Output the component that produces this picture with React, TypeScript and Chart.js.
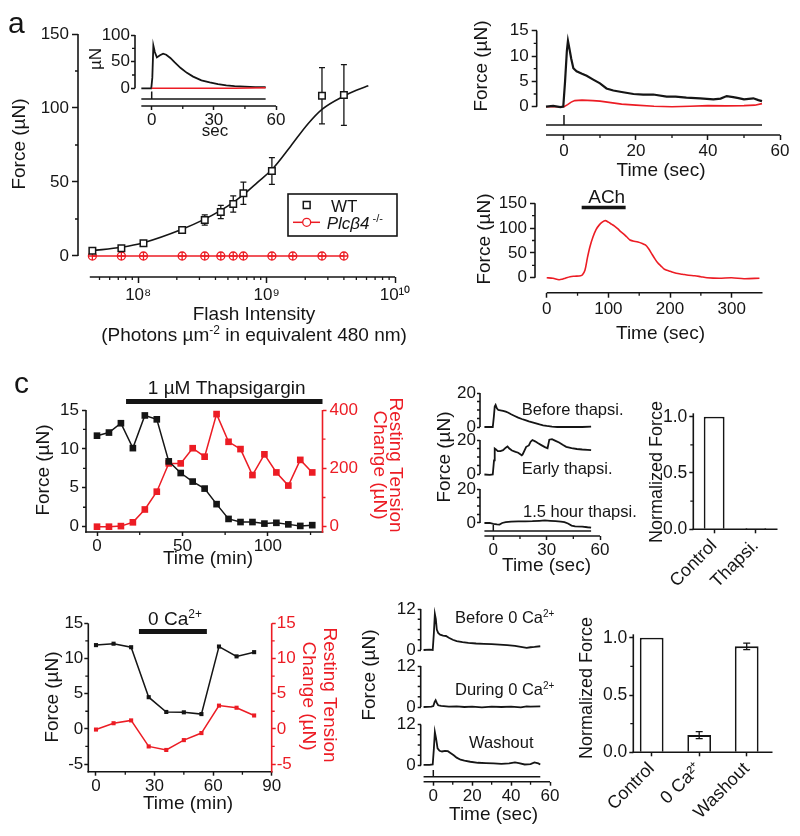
import React, { useEffect, useRef } from 'react';
import { Chart, registerables } from 'chart.js';

Chart.register(...registerables);

const FONT = '"Liberation Sans", Arial, Helvetica, sans-serif';
const INK = '#151515';
const RED = '#ec1c24';
Chart.defaults.font.family = FONT;
Chart.defaults.color = INK;

// ================= DATA =================
// (a) intensity-response, WT vs Plcb4-/-
const aFlashWT = [4.4e7, 7.4e7, 1.1e8, 2.2e8, 3.3e8, 4.4e8, 5.5e8, 6.6e8, 1.1e9, 2.7e9, 4.0e9];
const aForceWT = [3.6, 5.2, 8.6, 17.6, 24.3, 29.7, 35.1, 42.4, 57.4, 108.3, 108.8];
const aErrWT = [1.0, 1.0, 1.5, 2.0, 3.5, 4.5, 5.5, 7.5, 9.0, 19.0, 20.5];
const aFlashKO = [4.4e7, 7.4e7, 1.1e8, 2.2e8, 3.3e8, 4.4e8, 5.5e8, 6.6e8, 1.1e9, 1.6e9, 2.7e9, 4.0e9];
const aForceKO = [0, 0, 0, 0, 0, 0, 0, 0, 0, 0, 0, 0];
const aFitFlash = [4.4e7, 7.4e7, 1.1e8, 2.2e8, 3.3e8, 4.4e8, 5.5e8, 6.6e8, 8.5e8, 1.1e9, 1.54e9, 2.08e9, 2.7e9, 4.0e9, 5.0e9, 6.2e9];
const aFitForce = [3.6, 5.9, 9.0, 18.1, 24.9, 30.8, 36.2, 41.4, 49.8, 58.4, 74.2, 88.9, 99.1, 108.1, 112, 115];
const aXTicks = [1e8, 1e9, 1e10];
const aXTickLabels = ['10⁸', '10⁹', '10¹⁰'];
const aXMinor = [5e7, 6e7, 7e7, 8e7, 9e7, 2e8, 3e8, 4e8, 5e8, 6e8, 7e8, 8e8, 9e8, 2e9, 3e9, 4e9, 5e9, 6e9, 7e9, 8e9, 9e9];
const aYTicks = [0, 50, 100, 150];
// (a) inset
const aInsetTime = [-5, -0.2, 0.3, 0.8, 1.5, 2.5, 4, 5.5, 7, 9, 11, 14, 17, 20, 24, 28, 32, 36, 40, 45, 50, 55];
const aInsetWT = [0, 0, 20, 80, 68, 58, 62, 65, 63, 57, 49, 38, 29, 22, 15, 11, 8, 5.5, 4, 3, 2.3, 2];
const aInsetTimeKO = [0, 20, 40, 55];
const aInsetKO = [0, 0, 0.3, 1];

// (b) single flash traces
const bTimeWT = [-5, -3, -1, -0.2, 0.3, 0.8, 1.1, 1.5, 2, 2.6, 3.5, 5, 6.3, 8, 10, 11.8, 13.7, 16, 19.3, 22, 24.8, 28.5, 31, 34, 37.8, 41.5, 43.5, 45.2, 47, 48.5, 50, 52.6, 54, 55];
const bForceWT = [0, 0.15, -0.1, 0, 5, 11, 13, 11.5, 9.5, 7.6, 7, 6.5, 6.1, 5.4, 4.6, 3.6, 3.2, 2.9, 2.5, 2.4, 2.4, 2.0, 2.0, 1.8, 1.65, 1.45, 1.6, 2.1, 1.9, 1.7, 1.45, 1.65, 1.3, 1.1];
const bTimeKO = [-5, 0, 1, 2, 3, 5, 8, 10, 13, 16, 20, 25, 30, 35, 40, 45, 50, 53, 55];
const bForceKO = [0, 0, 0.4, 0.9, 1.2, 1.3, 1.2, 1.1, 0.8, 0.5, 0.3, 0.1, 0, 0.1, 0.2, 0.15, 0.2, 0.3, 0.6];
// (b) ACh response
const bAchTime = [0, 10, 20, 25, 30, 38, 45, 55, 58, 62, 66, 70, 75, 80, 85, 90, 95, 100, 105, 110, 115, 120, 125, 130, 135, 140, 148, 155, 160, 165, 170, 175, 180, 185, 190, 195, 200, 210, 220, 230, 240, 250, 260, 280, 300, 320, 345];
const bAchForce = [0, -1, -4, -3, -1, 2, 3, 4, 6, 15, 40, 62, 82, 97, 106, 112, 115, 112, 108, 104, 99, 93, 88, 82, 76, 74, 72, 69, 66, 59, 49, 39, 30, 24, 18, 15, 13, 9, 7, 5, 4, 2, 0, -1, 0, -2, -1];
const bAchOn = [56.7, 128];

// (c) thapsigargin time course
const cTime = [0, 7, 14, 21, 28, 35, 42, 49, 56, 63, 70, 77, 84, 91, 98, 105, 112, 119, 126];
const cForce = [11.7, 12.1, 13.3, 10.1, 14.3, 13.8, 8.4, 6.9, 5.8, 4.9, 2.9, 1.0, 0.6, 0.6, 0.4, 0.5, 0.3, 0.1, 0.2];
const cTension = [0, 0, 2, 15, 59, 120, 217, 217, 269, 240, 386, 291, 266, 177, 248, 186, 141, 229, 186];
const cDrugOn = [17, 132];
// (c) example traces
const cBeforeTime = [-5, -2, -0.3, 0.3, 0.8, 1.3, 2, 2.8, 4, 5.5, 7, 8.5, 10, 12, 14, 16, 18, 20, 22, 24, 26, 28, 30, 33, 36, 40, 45, 50, 55];
const cBeforeForce = [0, 0, 0, 6, 12, 13, 11, 10, 9.8, 9.5, 9, 8.4, 7.5, 6.5, 5.5, 4.7, 4, 3.3, 2.7, 2.1, 1.5, 1, 0.6, 0.2, 0, 0, 0.1, 0, 0.2];
const cEarlyTime = [-5, -2, -0.3, 0.4, 0.8, 1.5, 2.5, 4, 5.5, 7, 8, 9, 10.5, 12.5, 14, 16, 16.5, 18.5, 20, 21, 22, 23.5, 25, 27, 29, 30.5, 31.5, 33, 35, 37, 39, 41, 44, 47, 50, 53, 55];
const cEarlyForce = [-0.3, -0.5, -0.3, 8, 15, 14.5, 13.5, 13.5, 14, 15.5, 16.2, 15, 13.8, 13, 12.5, 11, 11.5, 16, 16.8, 19, 20, 19.2, 18.2, 17, 15.8, 15.2, 20.2, 20.5, 19.5, 18.5, 17.2, 16, 15.2, 14.7, 14.4, 14.2, 14];
const cLateTime = [-5, -2, 0, 2, 3.5, 5, 7, 10, 14, 18, 22, 26, 29, 32, 35, 38, 40, 42, 44, 46, 50, 53, 55];
const cLateForce = [0, 0, -0.5, -0.8, -0.9, 0, 0.5, 0.8, 1, 1, 1.1, 1.3, 1.5, 1.3, 1.1, 0.8, 0.5, -0.3, -1.5, -2, -2.1, -2.5, -2.7];
// (c) summary bars
const cBarCats = ['Control', 'Thapsi.'];
const cBarVals = [1.0, 0.012];

// (d) 0 Ca time course
const dTime = [0, 9, 18, 27, 36, 45, 54, 63, 72, 81];
const dForce = [11.9, 12.1, 11.6, 4.5, 2.4, 2.35, 2.1, 11.7, 10.3, 10.9];
const dTension = [-0.1, 0.8, 1.2, -2.5, -3.0, -1.6, -0.6, 3.3, 3.0, 1.9];
const dCaFreeOn = [22, 56.8];
// (d) example traces
const dBeforeTime = [-5, -2, -0.3, 0.3, 0.8, 1.3, 1.8, 2.5, 3.5, 5, 6.5, 8, 10, 12, 15, 18, 22, 26, 30, 34, 38, 42, 45, 48, 50, 52, 55];
const dBeforeForce = [0, 0.1, 0, 5, 10.5, 9, 6, 5, 4.5, 4.2, 4.1, 3.6, 3, 2.6, 2.3, 2.1, 1.9, 1.8, 1.7, 1.6, 1.4, 1.2, 0.9, 0.6, 0.8, 0.9, 1.1];
const dDuringTime = [-5, -1, 0, 0.7, 1.2, 1.8, 2.5, 4, 8, 12, 16, 20, 25, 30, 35, 40, 45, 48, 50, 55];
const dDuringForce = [0, 0.1, 0.3, 1.5, 2, 1.2, 0.5, 0.3, 0.1, 0.2, 0, 0.1, -0.1, 0.1, 0, 0.1, -0.1, 0.2, 0.1, 0.2];
const dWashTime = [-5, -2, -0.3, 0.3, 0.8, 1.4, 2.2, 3.2, 4.5, 6, 7.5, 9, 10.5, 12, 14, 16, 19, 23, 27, 31, 35, 39, 42, 44, 47, 50, 52, 54, 55];
const dWashForce = [0.2, 0.2, 0.3, 5, 9.8, 8, 5, 4.3, 4.1, 4.3, 4.2, 3.6, 3, 2.3, 1.7, 1.4, 1.1, 0.8, 0.7, 0.6, 0.5, 0.6, 0.9, 0.7, 0.3, 0.4, 0.9, 0.6, 0.3];
// (d) summary bars
const dBarCats = ['Control', '0 Ca²⁺', 'Washout'];
const dBarPos = [0, 1, 2];
const dBarVals = [1.0, 0.15, 0.925];
const dBarErr = [0, 0.03, 0.028];

// stimulus window of the flash traces (sec)
const stimSpan = [-5, 55];

// ================= HELPERS =================
type Rect = { x: number; y: number; w: number; h: number };
type Area = { l: number; t: number; r: number; b: number };

const pts = (xs: number[], ys: number[]) => xs.map((x, i) => ({ x, y: ys[i] }));

const line = (xs: number[], ys: number[], color: string, lw: number, extra: any = {}) => ({
  data: pts(xs, ys), showLine: true, borderColor: color, borderWidth: lw, pointRadius: 0, clip: false, tension: 0, ...extra,
});

function drawText(ctx: any, s: any, ox: number, oy: number) {
  const fs = s.fs ?? 19;
  const parts = s.parts ?? [{ t: s.t }];
  const fontOf = (p: any) => `${p.it ? 'italic ' : ''}${s.bold ? 'bold ' : ''}${p.sup ? Math.round(fs * 0.62) : fs}px ${FONT}`;
  const widths = parts.map((p: any) => { ctx.font = fontOf(p); return ctx.measureText(p.t).width; });
  const total = widths.reduce((a: number, b: number) => a + b, 0);
  ctx.save();
  ctx.translate(s.x - ox, s.y - oy);
  if (s.rot) ctx.rotate((s.rot * Math.PI) / 180);
  ctx.fillStyle = s.color || INK;
  ctx.textAlign = 'left';
  ctx.textBaseline = s.rot ? 'middle' : 'alphabetic';
  let x = s.align === 'left' ? 0 : s.align === 'right' ? -total : -total / 2;
  parts.forEach((p: any, i: number) => {
    ctx.font = fontOf(p);
    ctx.fillText(p.t, x, p.sup ? -fs * 0.36 : 0);
    x += widths[i];
  });
  ctx.restore();
}

function drawErrs(chart: any, o: any, before: boolean) {
  if (!o.errs) return;
  const ctx = chart.ctx;
  o.errs.forEach((e: any) => {
    if (!!e.before !== before) return;
    const meta = chart.getDatasetMeta(e.ds);
    const ds = chart.data.datasets[e.ds];
    const ys = chart.scales[meta.yAxisID];
    ctx.save();
    ctx.strokeStyle = e.color || INK;
    ctx.lineWidth = e.lw || 1.3;
    ctx.beginPath();
    meta.data.forEach((el: any, i: number) => {
      const err = e.err[i];
      if (!err) return;
      const raw = ds.data[i];
      const v = typeof raw === 'number' ? raw : raw.y;
      const x = el.x;
      const y0 = ys.getPixelForValue(v - err);
      const y1 = ys.getPixelForValue(v + err);
      const c = e.cap ?? 3;
      ctx.moveTo(x, y0); ctx.lineTo(x, y1);
      ctx.moveTo(x - c, y0); ctx.lineTo(x + c, y0);
      ctx.moveTo(x - c, y1); ctx.lineTo(x + c, y1);
    });
    ctx.stroke();
    ctx.restore();
  });
}

function decoPlugin(o: any) {
  return {
    id: 'deco',
    beforeDatasetsDraw(chart: any) { drawErrs(chart, o, true); },
    afterDatasetsDraw(chart: any) { drawErrs(chart, o, false); },
    afterDraw(chart: any) {
      const ctx = chart.ctx;
      const ox = o.ox, oy = o.oy;
      const ca = chart.chartArea;
      ctx.save();
      (o.borders || []).forEach((b: any) => {
        const s = chart.scales[b.id];
        ctx.strokeStyle = b.color || INK;
        ctx.lineWidth = 1.6;
        ctx.beginPath();
        if (s.isHorizontal()) {
          const y = s.top;
          const p0 = b.full ? ca.left - 0.8 : s.getPixelForValue(b.from);
          const p1 = b.full ? ca.right + 0.8 : s.getPixelForValue(b.to);
          ctx.moveTo(p0, y); ctx.lineTo(p1, y);
        } else {
          const x = s.position === 'right' ? s.left : s.right;
          const p0 = b.full ? ca.bottom + 0.8 : s.getPixelForValue(b.from);
          const p1 = b.full ? ca.top : s.getPixelForValue(b.to);
          ctx.moveTo(x, p0); ctx.lineTo(x, p1);
        }
        ctx.stroke();
      });
      (o.minor || []).forEach((m: any) => {
        const s = chart.scales[m.id];
        const len = m.len ?? 3;
        ctx.strokeStyle = m.color || INK;
        ctx.lineWidth = 1.3;
        ctx.beginPath();
        m.v.forEach((v: number) => {
          const p = s.getPixelForValue(v);
          if (s.isHorizontal()) { ctx.moveTo(p, s.top); ctx.lineTo(p, s.top + len); }
          else if (s.position === 'right') { ctx.moveTo(s.left, p); ctx.lineTo(s.left + len, p); }
          else { ctx.moveTo(s.right - len, p); ctx.lineTo(s.right, p); }
        });
        ctx.stroke();
      });
      (o.segs || []).forEach((g: any) => {
        const X = (v: number) => (g.xs ? chart.scales[g.xs].getPixelForValue(v) : v - ox);
        const Y = (v: number) => (g.ys ? chart.scales[g.ys].getPixelForValue(v) : v - oy);
        ctx.strokeStyle = g.color || INK;
        ctx.lineWidth = g.lw || 1.5;
        ctx.beginPath();
        ctx.moveTo(X(g.x0), Y(g.y0));
        ctx.lineTo(X(g.x1), Y(g.y1));
        ctx.stroke();
      });
      (o.boxes || []).forEach((b: any) => {
        ctx.strokeStyle = INK;
        ctx.lineWidth = 1.6;
        ctx.strokeRect(b.x0 - ox, b.y0 - oy, b.x1 - b.x0, b.y1 - b.y0);
      });
      (o.marks || []).forEach((m: any) => {
        const x = m.x - ox, y = m.y - oy;
        ctx.strokeStyle = m.color || INK;
        ctx.lineWidth = m.lw || 1.5;
        ctx.fillStyle = m.fill || 'rgba(0,0,0,0)';
        ctx.beginPath();
        if (m.shape === 'rect') { ctx.rect(x - m.r, y - m.r, 2 * m.r, 2 * m.r); ctx.fill(); ctx.stroke(); }
        else if (m.shape === 'circle') { ctx.arc(x, y, m.r, 0, 2 * Math.PI); ctx.fill(); ctx.stroke(); }
        else { ctx.moveTo(x - m.r, y); ctx.lineTo(x + m.r, y); ctx.moveTo(x, y - m.r); ctx.lineTo(x, y + m.r); ctx.stroke(); }
      });
      (o.texts || []).forEach((t: any) => drawText(ctx, t, ox, oy));
      ctx.restore();
    },
  };
}

function scaleCfg(a: any, size: number) {
  const color = a.color || INK;
  const cfg: any = {
    type: a.type || 'linear',
    position: a.pos,
    display: !a.hidden,
    offset: !!a.offset,
    afterFit: (s: any) => {
      if (s.isHorizontal()) s.height = size; else s.width = size;
      s.paddingLeft = 0; s.paddingRight = 0; s.paddingTop = 0; s.paddingBottom = 0;
    },
    grid: { display: true, drawOnChartArea: false, drawTicks: true, tickLength: a.tl ?? 5, tickWidth: 1.5, tickColor: color, offset: false },
    border: { display: false },
    ticks: {
      autoSkip: false, maxRotation: a.rot ?? 0, minRotation: a.rot ?? 0, padding: a.pad ?? 2, color,
      font: { family: FONT, size: a.fs ?? 17 },
    },
    title: { display: false },
  };
  if (a.min !== undefined) cfg.min = a.min;
  if (a.max !== undefined) cfg.max = a.max;
  if (a.ticks) {
    const tv = a.ticks;
    cfg.afterBuildTicks = (s: any) => { s.ticks = tv.map((v: number) => ({ value: v })); };
  }
  if (a.fmt) { const f = a.fmt; cfg.ticks.callback = (v: any) => f(v); }
  return cfg;
}

function mk(C: Rect, P: Area, axes: Record<string, any>, datasets: any[], deco: any, type = 'scatter', labels?: string[]) {
  const leftW = P.l - C.x, topH = P.t - C.y, rightW = C.x + C.w - P.r, botH = C.y + C.h - P.b;
  const list = Object.values(axes) as any[];
  const hasR = list.some((a) => a.pos === 'right' && !a.hidden);
  const hasB = list.some((a) => a.pos === 'bottom' && !a.hidden);
  const scales: any = {};
  Object.keys(axes).forEach((id) => {
    const a = axes[id];
    const size = a.hidden ? 0 : a.pos === 'left' ? leftW : a.pos === 'right' ? rightW : botH;
    scales[id] = scaleCfg(a, size);
  });
  const data: any = { datasets };
  if (labels) data.labels = labels;
  return {
    type,
    data,
    options: {
      responsive: false, animation: false, events: [], devicePixelRatio: 1,
      layout: { autoPadding: false, padding: { left: 0, top: topH, right: hasR ? 0 : rightW, bottom: hasB ? 0 : botH } },
      plugins: { legend: { display: false }, tooltip: { enabled: false } },
      scales,
    },
    plugins: [decoPlugin({ ox: C.x, oy: C.y, ...deco })],
  };
}

const fmt1 = (v: number) => v.toFixed(1);

// ================= CHART SPECS =================
type Spec = { C: Rect; make: () => any };

const cA: Rect = { x: 0, y: 0, w: 425, h: 350 };
const cAi: Rect = { x: 80, y: 24, w: 205, h: 122 };
const cB1: Rect = { x: 462, y: 10, w: 333, h: 175 };
const cB2: Rect = { x: 462, y: 186, w: 333, h: 162 };
const cC1: Rect = { x: 0, y: 372, w: 405, h: 200 };
const cC2a: Rect = { x: 430, y: 380, w: 210, h: 52 };
const cC2b: Rect = { x: 430, y: 400, w: 210, h: 110 };
const cC2c: Rect = { x: 430, y: 482, w: 210, h: 95 };
const cC3: Rect = { x: 640, y: 395, w: 150, h: 190 };
const cD1: Rect = { x: 0, y: 602, w: 345, h: 222 };
const cD2a: Rect = { x: 395, y: 597, w: 170, h: 60 };
const cD2b: Rect = { x: 355, y: 605, w: 210, h: 130 };
const cD2c: Rect = { x: 395, y: 715, w: 170, h: 115 };
const cD3: Rect = { x: 565, y: 615, w: 220, h: 215 };

const stripX = (min: number, ticks: number[], hidden: boolean) => ({ pos: 'bottom', min, max: 60, ticks, tl: 4, pad: 0, hidden });

const SPECS: Spec[] = [
  // ---- (a) main ----
  {
    C: cA,
    make: () => mk(cA, { l: 78, t: 34, r: 395, b: 277 }, {
      x: { pos: 'bottom', type: 'logarithmic', min: 3.4e7, max: 1e10, ticks: aXTicks, fmt: (v: number) => aXTickLabels[aXTicks.indexOf(v)] ?? '', tl: 6, pad: 2 },
      y: { pos: 'left', min: -14.2, max: 150, ticks: aYTicks, tl: 6, pad: 3 },
    }, [
      { data: pts(aFlashWT, aForceWT), showLine: false, pointStyle: 'rect', pointRadius: 4.6, pointBorderWidth: 1.5, borderColor: INK, backgroundColor: '#fff', clip: false },
      line(aFitFlash, aFitForce, INK, 1.6, { cubicInterpolationMode: 'monotone' }),
      { data: pts(aFlashKO, aForceKO), showLine: false, pointStyle: 'cross', pointRadius: 4, pointBorderWidth: 1.3, borderColor: RED, clip: false },
      { data: pts(aFlashKO, aForceKO), showLine: true, borderColor: RED, borderWidth: 1.5, pointStyle: 'circle', pointRadius: 4, pointBorderWidth: 1.3, pointBackgroundColor: 'rgba(255,255,255,0)', clip: false },
    ], {
      borders: [{ id: 'x', from: 4.2e7, to: 1e10 }, { id: 'y', from: 0, to: 150 }],
      minor: [{ id: 'y', v: [25, 75, 125] }, { id: 'x', v: aXMinor }],
      errs: [{ ds: 0, err: aErrWT, cap: 3, before: true }],
      boxes: [{ x0: 288, y0: 194, x1: 397, y1: 236 }],
      segs: [{ x0: 293, x1: 320, y0: 222.3, y1: 222.3, color: RED, lw: 1.5 }],
      marks: [
        { shape: 'rect', x: 306.7, y: 205, r: 3.4, color: INK, fill: '#fff' },
        { shape: 'circle', x: 306.7, y: 222.3, r: 4, color: RED, fill: '#fff', lw: 1.3 },
      ],
      texts: [
        { x: 8, y: 33, t: 'a', fs: 30, align: 'left' },
        { x: 19.5, y: 144, t: 'Force (µN)', rot: -90 },
        { x: 254, y: 320, t: 'Flash Intensity' },
        { x: 254, y: 341, parts: [{ t: '(Photons µm' }, { t: '-2', sup: true }, { t: ' in equivalent 480 nm)' }] },
        { x: 331, y: 212, t: 'WT', fs: 17, align: 'left' },
        { x: 326.7, y: 228.5, parts: [{ t: 'Plcβ4', it: true }, { t: ' -/-', sup: true }], fs: 17, align: 'left' },
      ],
    }),
  },
  // ---- (a) inset ----
  {
    C: cAi,
    make: () => mk(cAi, { l: 135, t: 35, r: 276, b: 106 }, {
      x: { pos: 'bottom', min: -8.06, max: 60, ticks: [0, 30, 60], tl: 4, pad: 0 },
      y: { pos: 'left', min: -33.2, max: 100, ticks: [0, 50, 100], tl: 4, pad: 1 },
    }, [
      line(aInsetTimeKO, aInsetKO, RED, 1.5),
      line(aInsetTime, aInsetWT, INK, 1.8),
    ], {
      borders: [{ id: 'x', from: -5, to: 60 }, { id: 'y', from: 0, to: 100 }],
      minor: [{ id: 'x', v: [15, 45] }, { id: 'y', v: [25, 75] }],
      segs: [
        { xs: 'x', x0: stimSpan[0], x1: stimSpan[1], y0: 99, y1: 99, lw: 1.5 },
        { xs: 'x', x0: 0, x1: 0, y0: 91.5, y1: 99, lw: 1.5 },
      ],
      texts: [
        { x: 215, y: 136, t: 'sec', fs: 17 },
        { x: 96.7, y: 59, t: 'µN', fs: 17, rot: -90 },
      ],
    }),
  },
  // ---- (b) flash traces ----
  {
    C: cB1,
    make: () => mk(cB1, { l: 536.7, t: 30.7, r: 780, b: 135 }, {
      x: { pos: 'bottom', min: -7.58, max: 60, ticks: [0, 20, 40, 60], tl: 5, pad: 1 },
      y: { pos: 'left', min: -5.59, max: 15, ticks: [0, 5, 10, 15], tl: 5, pad: 3 },
    }, [
      line(bTimeWT, bForceWT, INK, 2.2),
      line(bTimeKO, bForceKO, RED, 1.6),
    ], {
      borders: [{ id: 'x', from: -5, to: 60 }, { id: 'y', from: 0, to: 15 }],
      minor: [{ id: 'x', v: [10, 30, 50] }, { id: 'y', v: [2.5, 7.5, 12.5] }],
      segs: [
        { xs: 'x', x0: stimSpan[0], x1: stimSpan[1], y0: 125, y1: 125, lw: 1.5 },
        { xs: 'x', x0: 0, x1: 0, y0: 115, y1: 125, lw: 1.5 },
      ],
      texts: [
        { x: 438, y: 35, t: 'b', fs: 30, align: 'left' },
        { x: 481.7, y: 66, t: 'Force (µN)', rot: -90 },
        { x: 661, y: 176, t: 'Time (sec)' },
      ],
    }),
  },
  // ---- (b) ACh ----
  {
    C: cB2,
    make: () => mk(cB2, { l: 535, t: 203.3, r: 762.7, b: 292.7 }, {
      x: { pos: 'bottom', min: -19, max: 350.3, ticks: [0, 100, 200, 300], tl: 5, pad: 1 },
      y: { pos: 'left', min: -30.2, max: 150, ticks: [0, 50, 100, 150], tl: 5, pad: 3 },
    }, [
      line(bAchTime, bAchForce, RED, 1.6, { tension: 0.3 }),
    ], {
      borders: [{ id: 'x', from: 0, to: 350 }, { id: 'y', from: 0, to: 150 }],
      minor: [{ id: 'x', v: [50, 150, 250] }, { id: 'y', v: [25, 75, 125] }],
      segs: [{ xs: 'x', x0: bAchOn[0], x1: bAchOn[1], y0: 207.5, y1: 207.5, lw: 3.5 }],
      texts: [
        { x: 606.7, y: 203, t: 'ACh' },
        { x: 485, y: 239, t: 'Force (µN)', rot: -90 },
        { x: 660.5, y: 339, t: 'Time (sec)' },
      ],
    }),
  },
  // ---- (c) thapsigargin time course ----
  {
    C: cC1,
    make: () => mk(cC1, { l: 86, t: 410, r: 322.5, b: 532 }, {
      x: { pos: 'bottom', min: -6.44, max: 132, ticks: [0, 50, 100], tl: 4, pad: 0 },
      y: { pos: 'left', min: -0.68, max: 15, ticks: [0, 5, 10, 15], tl: 4, pad: 3 },
      y2: { pos: 'right', min: -18.2, max: 400, ticks: [0, 200, 400], tl: 4, pad: 3, color: RED },
    }, [
      { data: pts(cTime, cForce), yAxisID: 'y', showLine: true, borderColor: INK, backgroundColor: INK, borderWidth: 1.5, pointStyle: 'rect', pointRadius: 4.7, pointBorderWidth: 0, clip: false },
      { data: pts(cTime, cTension), yAxisID: 'y2', showLine: true, borderColor: RED, backgroundColor: RED, borderWidth: 1.5, pointStyle: 'rect', pointRadius: 4.7, pointBorderWidth: 0, clip: false },
    ], {
      borders: [{ id: 'x', full: true }, { id: 'y', full: true }, { id: 'y2', full: true, color: RED }],
      minor: [{ id: 'x', v: [25, 75, 125] }, { id: 'y', v: [2.5, 7.5, 12.5] }, { id: 'y2', v: [100, 300], color: RED }],
      segs: [{ xs: 'x', x0: cDrugOn[0], x1: cDrugOn[1], y0: 401.5, y1: 401.5, lw: 5 }],
      texts: [
        { x: 14, y: 393, t: 'c', fs: 30, align: 'left' },
        { x: 226.7, y: 394, t: '1 µM Thapsigargin' },
        { x: 43.3, y: 470, t: 'Force (µN)', rot: -90 },
        { x: 208, y: 564, t: 'Time (min)' },
        { x: 395, y: 465, t: 'Resting Tension', rot: 90, color: RED },
        { x: 379, y: 465, t: 'Change (µN)', rot: 90, color: RED },
      ],
    }),
  },
  // ---- (c) traces: before ----
  {
    C: cC2a,
    make: () => mk(cC2a, { l: 480, t: 393, r: 600, b: 427 }, {
      x: stripX(-7.48, [0, 30, 60], true),
      y: { pos: 'left', min: 0, max: 20, ticks: [0, 20], tl: 3, pad: 1 },
    }, [line(cBeforeTime, cBeforeForce, INK, 1.8)], {
      borders: [{ id: 'y', from: 0, to: 20 }],
      minor: [{ id: 'y', v: [5, 10, 15] }],
      texts: [{ x: 521.7, y: 415, t: 'Before thapsi.', fs: 16.5, align: 'left' }],
    }),
  },
  // ---- (c) traces: early ----
  {
    C: cC2b,
    make: () => mk(cC2b, { l: 480, t: 440, r: 600, b: 474 }, {
      x: stripX(-7.48, [0, 30, 60], true),
      y: { pos: 'left', min: 0, max: 20, ticks: [0, 20], tl: 3, pad: 1 },
    }, [line(cEarlyTime, cEarlyForce, INK, 1.8)], {
      borders: [{ id: 'y', from: 0, to: 20 }],
      minor: [{ id: 'y', v: [5, 10, 15] }],
      texts: [
        { x: 521.7, y: 473.5, t: 'Early thapsi.', fs: 16.5, align: 'left' },
        { x: 445, y: 457, t: 'Force (µN)', rot: -90 },
      ],
    }),
  },
  // ---- (c) traces: 1.5 h ----
  {
    C: cC2c,
    make: () => mk(cC2c, { l: 480, t: 489, r: 600, b: 536 }, {
      x: stripX(-7.48, [0, 30, 60], false),
      y: { pos: 'left', min: -7.65, max: 20, ticks: [0, 20], tl: 3, pad: 1 },
    }, [line(cLateTime, cLateForce, INK, 1.8)], {
      borders: [{ id: 'y', from: 0, to: 20 }, { id: 'x', from: -5, to: 60 }],
      minor: [{ id: 'y', v: [5, 10, 15] }, { id: 'x', v: [15, 45] }],
      segs: [
        { xs: 'x', x0: stimSpan[0], x1: stimSpan[1], y0: 531, y1: 531, lw: 1.5 },
        { xs: 'x', x0: 0, x1: 0, y0: 525, y1: 531, lw: 1.5 },
      ],
      texts: [
        { x: 523, y: 516.7, t: '1.5 hour thapsi.', fs: 16.5, align: 'left' },
        { x: 546.5, y: 571, t: 'Time (sec)' },
      ],
    }),
  },
  // ---- (c) bars ----
  {
    C: cC3,
    make: () => mk(cC3, { l: 693.3, t: 413.3, r: 776.7, b: 529.3 }, {
      x: { pos: 'bottom', type: 'category', offset: true, tl: 4, pad: 2, rot: 45, fs: 18 },
      y: { pos: 'left', min: 0, max: 1.03, ticks: [0, 0.5, 1], fmt: fmt1, tl: 4, pad: 2, fs: 17.5 },
    }, [
      { data: cBarVals, backgroundColor: '#fff', borderColor: INK, borderWidth: 1.8, barPercentage: 0.5, categoryPercentage: 1 },
    ], {
      borders: [{ id: 'x', full: true }, { id: 'y', full: true }],
      minor: [{ id: 'y', v: [0.25, 0.75] }],
      texts: [{ x: 657, y: 472, t: 'Normalized Force', fs: 18, rot: -90 }],
    }, 'bar', cBarCats),
  },
  // ---- (d) 0 Ca time course ----
  {
    C: cD1,
    make: () => mk(cD1, { l: 88.3, t: 623.3, r: 271.7, b: 771.7 }, {
      x: { pos: 'bottom', min: -3.94, max: 90, ticks: [0, 30, 60, 90], tl: 4, pad: 0 },
      y: { pos: 'left', min: -6.09, max: 15, ticks: [-5, 0, 5, 10, 15], tl: 4, pad: 1 },
      y2: { pos: 'right', min: -6.09, max: 15, ticks: [-5, 0, 5, 10, 15], tl: 4, pad: 1, color: RED },
    }, [
      { data: pts(dTime, dForce), yAxisID: 'y', showLine: true, borderColor: INK, backgroundColor: INK, borderWidth: 1.5, pointStyle: 'rect', pointRadius: 2.9, pointBorderWidth: 0, clip: false },
      { data: pts(dTime, dTension), yAxisID: 'y2', showLine: true, borderColor: RED, backgroundColor: RED, borderWidth: 1.5, pointStyle: 'rect', pointRadius: 2.9, pointBorderWidth: 0, clip: false },
    ], {
      borders: [{ id: 'x', full: true }, { id: 'y', full: true }, { id: 'y2', full: true, color: RED }],
      minor: [{ id: 'x', v: [15, 45, 75] }, { id: 'y', v: [-2.5, 2.5, 7.5, 12.5] }, { id: 'y2', v: [-2.5, 2.5, 7.5, 12.5], color: RED }],
      segs: [{ xs: 'x', x0: dCaFreeOn[0], x1: dCaFreeOn[1], y0: 631.5, y1: 631.5, lw: 5 }],
      texts: [
        { x: 175, y: 625, parts: [{ t: '0 Ca' }, { t: '2+', sup: true }] },
        { x: 52.5, y: 697, t: 'Force (µN)', rot: -90 },
        { x: 188, y: 809, t: 'Time (min)' },
        { x: 329, y: 695, t: 'Resting Tension', rot: 90, color: RED },
        { x: 308, y: 696, t: 'Change (µN)', rot: 90, color: RED },
      ],
    }),
  },
  // ---- (d) traces: before ----
  {
    C: cD2a,
    make: () => mk(cD2a, { l: 420.7, t: 609, r: 550, b: 650 }, {
      x: stripX(-6.48, [0, 20, 40, 60], true),
      y: { pos: 'left', min: 0, max: 12, ticks: [0, 12], tl: 3, pad: 2 },
    }, [line(dBeforeTime, dBeforeForce, INK, 1.8)], {
      borders: [{ id: 'y', from: 0, to: 12 }],
      minor: [{ id: 'y', v: [3, 6, 9] }],
      texts: [{ x: 455, y: 623, parts: [{ t: 'Before 0 Ca' }, { t: '2+', sup: true }], fs: 16.5, align: 'left' }],
    }),
  },
  // ---- (d) traces: during ----
  {
    C: cD2b,
    make: () => mk(cD2b, { l: 420.7, t: 666, r: 550, b: 707 }, {
      x: stripX(-6.48, [0, 20, 40, 60], true),
      y: { pos: 'left', min: 0, max: 12, ticks: [0, 12], tl: 3, pad: 2 },
    }, [line(dDuringTime, dDuringForce, INK, 1.8)], {
      borders: [{ id: 'y', from: 0, to: 12 }],
      minor: [{ id: 'y', v: [3, 6, 9] }],
      texts: [
        { x: 455, y: 695, parts: [{ t: 'During 0 Ca' }, { t: '2+', sup: true }], fs: 16.5, align: 'left' },
        { x: 370, y: 675, t: 'Force (µN)', rot: -90 },
      ],
    }),
  },
  // ---- (d) traces: washout ----
  {
    C: cD2c,
    make: () => mk(cD2c, { l: 420.7, t: 724.5, r: 550, b: 781.7 }, {
      x: stripX(-6.48, [0, 20, 40, 60], false),
      y: { pos: 'left', min: -4.74, max: 12, ticks: [0, 12], tl: 3, pad: 2 },
    }, [line(dWashTime, dWashForce, INK, 1.8)], {
      borders: [{ id: 'y', from: 0, to: 12 }, { id: 'x', from: -5, to: 60 }],
      minor: [{ id: 'y', v: [3, 6, 9] }, { id: 'x', v: [10, 30, 50] }],
      segs: [
        { xs: 'x', x0: stimSpan[0], x1: stimSpan[1], y0: 776.7, y1: 776.7, lw: 1.5 },
        { xs: 'x', x0: 0, x1: 0, y0: 770, y1: 776.7, lw: 1.5 },
      ],
      texts: [
        { x: 469, y: 748, t: 'Washout', fs: 16.5, align: 'left' },
        { x: 493.5, y: 820, t: 'Time (sec)' },
      ],
    }),
  },
  // ---- (d) bars ----
  {
    C: cD3,
    make: () => mk(cD3, { l: 633.3, t: 634.3, r: 771.7, b: 752.3 }, {
      x: { pos: 'bottom', min: -0.387, max: 2.526, ticks: dBarPos, fmt: (v: number) => dBarCats[v] ?? '', tl: 4, pad: 2, rot: 45, fs: 18 },
      y: { pos: 'left', min: 0, max: 1.03, ticks: [0, 0.5, 1], fmt: fmt1, tl: 4, pad: 2, fs: 17.5 },
    }, [
      { data: pts(dBarPos, dBarVals), backgroundColor: '#fff', borderColor: INK, borderWidth: 1.8, barPercentage: 0.5, categoryPercentage: 1 },
    ], {
      borders: [{ id: 'x', full: true }, { id: 'y', full: true }],
      minor: [{ id: 'y', v: [0.25, 0.75] }],
      errs: [{ ds: 0, err: dBarErr, cap: 3.5, before: false }],
      texts: [{ x: 586.7, y: 688, t: 'Normalized Force', fs: 18, rot: -90 }],
    }, 'bar'),
  },
];

function ChartCanvas({ spec }: { spec: Spec }) {
  const ref = useRef<HTMLCanvasElement>(null);
  useEffect(() => {
    const chart = new Chart(ref.current as HTMLCanvasElement, spec.make());
    return () => chart.destroy();
  }, [spec]);
  const { C } = spec;
  return (
    <canvas
      ref={ref}
      width={C.w}
      height={C.h}
      style={{ position: 'absolute', left: C.x, top: C.y, width: C.w, height: C.h, display: 'block' }}
    />
  );
}

export default function App() {
  return (
    <div style={{ position: 'absolute', left: 0, top: 0, width: 800, height: 836, background: '#fff', overflow: 'hidden' }}>
      {SPECS.map((s, i) => (
        <ChartCanvas key={i} spec={s} />
      ))}
    </div>
  );
}
